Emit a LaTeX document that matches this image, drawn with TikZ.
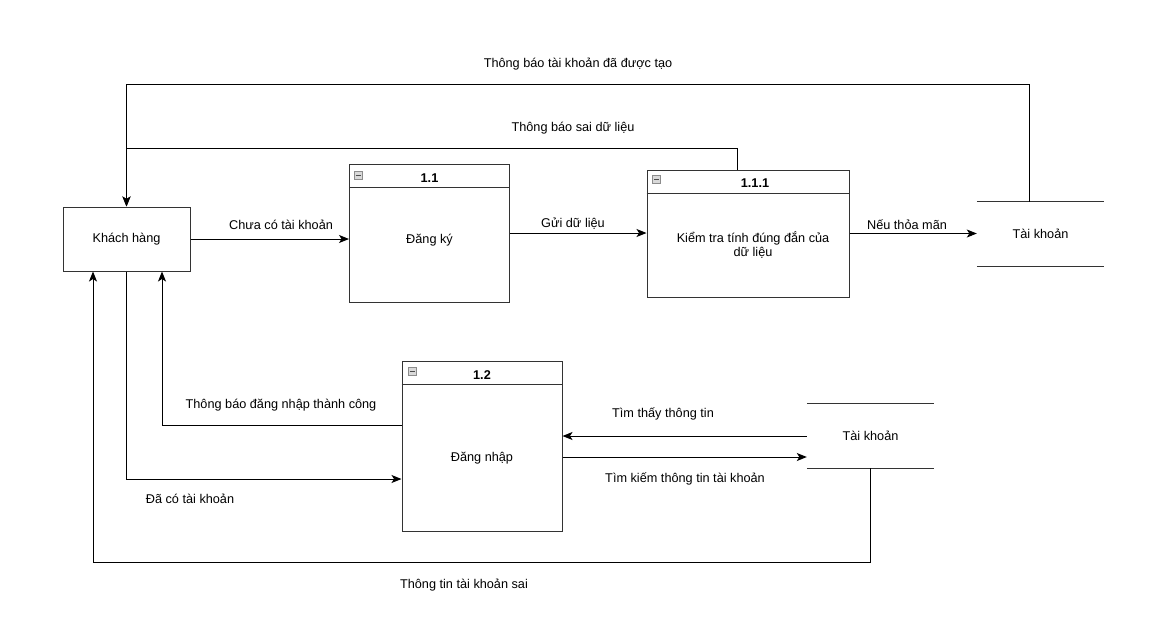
\documentclass[tikz,border=0pt]{standalone}
\usepackage{fontspec}
\setmainfont{Liberation Sans}
\usetikzlibrary{arrows.meta}

\begin{document}
\begin{tikzpicture}[x=1pt,y=-1pt,
    every node/.style={font=\fontsize{12.7}{14.5}\selectfont},
    box/.style={rectangle,draw=black!80,line width=1pt,inner sep=0pt},
    store/.style={rectangle,inner sep=0pt,minimum width=127pt,minimum height=64pt},
    title/.style={font=\fontsize{12.7}{14.5}\selectfont\bfseries},
    minus/.style={rectangle,draw=black!45,fill=black!15,minimum size=8pt,inner sep=0pt,
        path picture={\draw[line width=0.9pt,black!70] ([xshift=1.5pt]path picture bounding box.west) -- ([xshift=-1.5pt]path picture bounding box.east);}},
    flow/.style={-{Stealth[length=10pt,width=8pt,inset=2.5pt]},line width=1pt}]
    \useasboundingbox (0,0) rectangle (1155,630);

    % external entity
    \node (kh) at (126.5,239) [box,minimum width=127pt,minimum height=64pt] {Khách hàng};

    % process 1.1
    \node (p11) at (429.5,233) [box,minimum width=160pt,minimum height=138pt] {};
    \draw[black!80,line width=1pt] ([yshift=-24pt]p11.north west) -- ([yshift=-24pt]p11.north east);
    \node (m11) at (358,175) [minus] {};
    \node (t11) at (429.5,178) [title] {1.1};
    \node (b11) at (429.5,240) {Đăng ký};

    % process 1.1.1
    \node (p111) at (748,233.5) [box,minimum width=202pt,minimum height=127pt] {};
    \draw[black!80,line width=1pt] ([yshift=-24pt]p111.north west) -- ([yshift=-24pt]p111.north east);
    \node (m111) at (656.5,179.5) [minus] {};
    \node (t111) at (755,183) [title] {1.1.1};
    \node (b111) at (753,245) [align=center] {Kiểm tra tính đúng đắn của\\dữ liệu};

    % process 1.2
    \node (p12) at (482,446) [box,minimum width=160pt,minimum height=170pt] {};
    \draw[black!80,line width=1pt] ([yshift=-24pt]p12.north west) -- ([yshift=-24pt]p12.north east);
    \node (m12) at (412,371) [minus] {};
    \node (t12) at (482,375) [title] {1.2};
    \node (b12) at (482,458) {Đăng nhập};

    % data stores
    \node (tk1) at (1040.5,234) [store] {Tài khoản};
    \draw[black!80,line width=1pt] (tk1.north west) -- (tk1.north east);
    \draw[black!80,line width=1pt] (tk1.south west) -- (tk1.south east);
    \node (tk2) at (870.5,436) [store] {Tài khoản};
    \draw[black!80,line width=1pt] (tk2.north west) -- (tk2.north east);
    \draw[black!80,line width=1pt] (tk2.south west) -- (tk2.south east);

    % flows
    \draw[flow] (kh.east) -- (kh.east -| p11.west);
    \draw[flow] (p11.east) -- (p11.east -| p111.west);
    \draw[flow] (p111.east) -- (p111.east -| tk1.west);
    \draw[flow] ([xshift=-11.5pt]tk1.north) -- ++(0,-117) -| (kh.north);
    \draw[flow] ([xshift=-11pt]p111.north) -- ++(0,-21) -| (kh.north);
    \draw[flow] ([yshift=21pt]p12.west) -| ([xshift=35.5pt]kh.south);
    \draw[flow] (kh.south) |- ([yshift=-33pt]p12.west);
    \draw[flow] (tk2.west) -- (tk2.west -| p12.east);
    \draw[flow] ([yshift=-11pt]p12.east) -- ([yshift=-11pt]p12.east -| tk2.west);
    \draw[flow] (tk2.south) -- ++(0,94) -| ([xshift=-33.5pt]kh.south);

    % labels
    \node (l1) at (281,225) {Chưa có tài khoản};
    \node (l2) at (573,224) {Gửi dữ liệu};
    \node (l3) at (907,225) {Nếu thỏa mãn};
    \node (l4) at (578,64) {Thông báo tài khoản đã được tạo};
    \node (l5) at (573,128) {Thông báo sai dữ liệu};
    \node (l6) at (281,405) {Thông báo đăng nhập thành công};
    \node (l7) at (190,499) {Đã có tài khoản};
    \node (l8) at (663,414) {Tìm thấy thông tin};
    \node (l9) at (685,479) {Tìm kiếm thông tin tài khoản};
    \node (l10) at (464,585) {Thông tin tài khoản sai};
\end{tikzpicture}
\end{document}
